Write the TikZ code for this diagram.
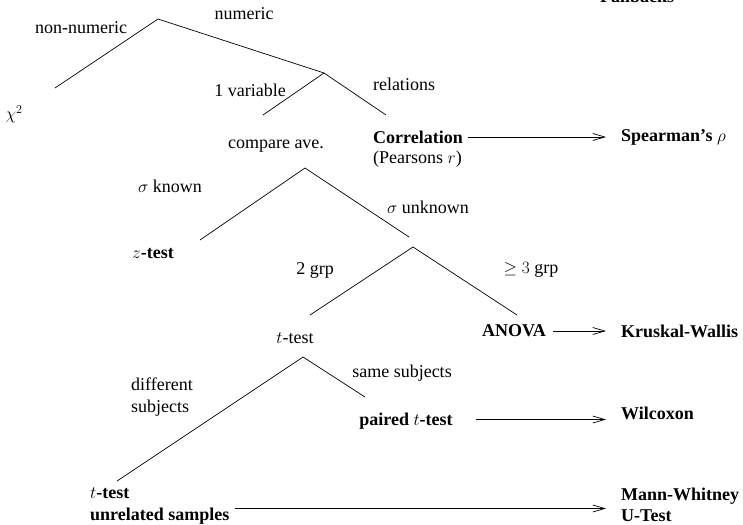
\documentclass[tikz,border=0pt]{standalone}
\usepackage{fontspec}
\setmainfont{Liberation Serif}
\usetikzlibrary{arrows.meta}
\tikzset{
  lbl/.style={inner sep=0pt, font=\fontsize{18}{21.5}\selectfont},
  res/.style={lbl, font=\fontsize{18}{21.5}\selectfont\bfseries},
  branch/.style={line width=0.7pt},
  arr/.style={line width=0.7pt, -{Straight Barb[length=12pt,width=7pt]}}
}
\begin{document}
\begin{tikzpicture}[x=1pt,y=-1pt]
\useasboundingbox (0,0) rectangle (743,524);
% tree coordinates
\coordinate (r) at (158,19);
\coordinate (r1) at (55,88);
\coordinate (n) at (324,73);
\coordinate (n1) at (263,115);
\coordinate (n2) at (386,115);
\coordinate (c) at (305,168);
\coordinate (c1) at (200,240);
\coordinate (c2) at (409,237);
\coordinate (g) at (413,247);
\coordinate (g1) at (310,315);
\coordinate (g2) at (517,315);
\coordinate (t) at (303,357);
\coordinate (t1) at (117,481);
\coordinate (t2) at (365,397);
\draw[branch] (r1) -- (r) -- (n);
\draw[branch] (n1) -- (n) -- (n2);
\draw[branch] (c1) -- (c) -- (c2);
\draw[branch] (g1) -- (g) -- (g2);
\draw[branch] (t1) -- (t) -- (t2);
% labels
\node[lbl] (nonnum) at (81,28) {non-numeric};
\node[lbl] (numeric) at (244,14) {numeric};
\node[lbl] (chi) at (14,114) {$\chi^2$};
\node[lbl] (onevar) at (250,90) {1 variable};
\node[lbl] (relations) at (404,84) {relations};
\node[lbl] (compare) at (276,146) {compare ave.};
\node[res, anchor=west] (corr) at (373,137) {Correlation};
\node[lbl, anchor=west] (pearson) at (373,159) {(Pearsons $r$)};
\node[lbl] (sknown) at (170,186) {$\sigma$ known};
\node[lbl] (sunknown) at (428,207) {$\sigma$ unknown};
\node[res] (ztest) at (153,254) {$z$-test};
\node[lbl] (twogrp) at (315,270) {2 grp};
\node[lbl] (ge3) at (531,270) {$\geq 3$ grp};
\node[res] (anova) at (514,331) {ANOVA};
\node[lbl] (ttest) at (295,338) {$t$-test};
\node[lbl] (same) at (402,373) {same subjects};
\node[lbl, align=left] (diff) at (162,397) {different\\subjects};
\node[res] (paired) at (406,421) {paired $t$-test};
\node[res, align=left, anchor=west] (unrel) at (90,506) {$t$-test\\unrelated samples};
% fallbacks
\node[res, anchor=base] (fallbacks) at (637,3) {Fallbacks};
\node[res, anchor=west] (spear) at (621,137) {Spearman's $\rho$};
\node[res, anchor=west] (kw) at (621,331) {Kruskal-Wallis};
\node[res, anchor=west] (wil) at (621,413) {Wilcoxon};
\node[res, align=left, anchor=west] (mw) at (621,505) {Mann-Whitney\\U-Test};
% arrows
\draw[arr] ([xshift=5pt]corr.east) -- ([xshift=-15pt]spear.west |- corr.east);
\draw[arr] ([xshift=7pt]anova.east) -- ([xshift=-15pt]kw.west |- anova.east);
\draw[arr] ([xshift=23pt,yshift=1.5pt]paired.east) -- ([xshift=-15pt,yshift=1.5pt]wil.west |- paired.east);
\draw[arr] ([xshift=5pt,yshift=-2.5pt]unrel.east) -- ([xshift=-15pt,yshift=-2.5pt]mw.west |- unrel.east);
\end{tikzpicture}
\end{document}
